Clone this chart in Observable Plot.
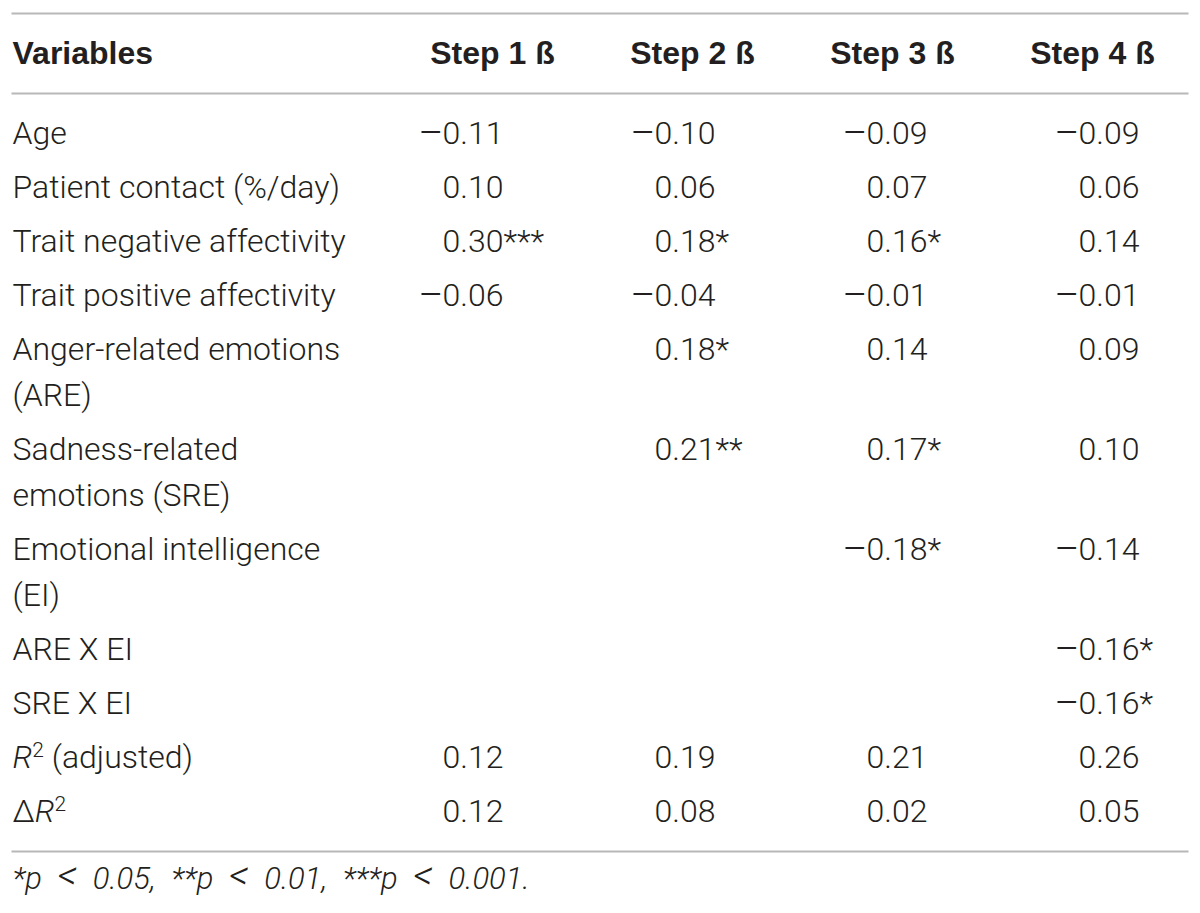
<!DOCTYPE html>
<html>
<head>
<meta charset="utf-8">
<script src="https://cdn.jsdelivr.net/npm/d3@7"></script>
<script src="https://cdn.jsdelivr.net/npm/@observablehq/plot@0.6"></script>
<style>
  html, body { margin: 0; padding: 0; background: #ffffff; }
  #chart svg { display: block; overflow: visible; }
</style>
</head>
<body>
<div id="chart"></div>
<script>
// ---- data ----
const headerLabel = "Variables";
const steps = ["Step 1 ß", "Step 2 ß", "Step 3 ß", "Step 4 ß"];
const variables = [
  "Age",
  "Patient contact (%/day)",
  "Trait negative affectivity",
  "Trait positive affectivity",
  "Anger-related emotions\n(ARE)",
  "Sadness-related\nemotions (SRE)",
  "Emotional intelligence\n(EI)",
  "ARE X EI",
  "SRE X EI",
  "R2 (adjusted)",
  "ΔR2"
];
const step1 = ["–0.11", "0.10", "0.30***", "–0.06", "", "", "", "", "", "0.12", "0.12"];
const step2 = ["–0.10", "0.06", "0.18*", "–0.04", "0.18*", "0.21**", "", "", "", "0.19", "0.08"];
const step3 = ["–0.09", "0.07", "0.16*", "–0.01", "0.14", "0.17*", "–0.18*", "", "", "0.21", "0.02"];
const step4 = ["–0.09", "0.06", "0.14", "–0.01", "0.09", "0.10", "–0.14", "–0.16*", "–0.16*", "0.26", "0.05"];
const footnote = "*p < 0.05, **p < 0.01, ***p < 0.001.";

// ---- style ----
const INK = "#231f20";
const RULE = "#b8b8b8";
const BODY_FONT = "Roboto, 'Liberation Sans', sans-serif";
const HEAD_FONT = "'Liberation Sans', Arial, sans-serif";
const FS = 32;
const INNER = 0.85; // line spacing inside a wrapped row, in row units

// ---- derived tables ----
const rowPos = [];
{
  let p = 0;
  variables.forEach((v, i) => {
    rowPos[i] = p;
    p += 1 + (v.split("\n").length - 1) * INNER;
  });
}
const labelLines = variables.flatMap((v, i) =>
  v.split("\n").map((t, k) => ({text: t, y: rowPos[i] + k * INNER}))
);
const columns = [step1, step2, step3, step4];
const cells = columns.flatMap((col, s) =>
  col.map((v, i) => ({step: steps[s], y: rowPos[i], raw: v}))
     .filter(d => d.raw !== "")
     .map(d => ({...d, neg: d.raw.startsWith("–"), digits: d.raw.replace("–", "")}))
);
const lastRow = rowPos[rowPos.length - 1];

// ---- header ----
const header = Plot.plot({
  width: 1200,
  height: 95,
  marginTop: 13,
  marginBottom: 2,
  marginLeft: 12,
  marginRight: 13,
  x: {type: "point", domain: steps, range: [491, 1093], padding: 0, axis: null},
  marks: [
    Plot.frame({anchor: "top", stroke: RULE, strokeWidth: 2}),
    Plot.frame({anchor: "bottom", stroke: RULE, strokeWidth: 2}),
    Plot.text([headerLabel], {text: d => d, frameAnchor: "left", textAnchor: "start",
      fontSize: FS, fontWeight: "bold", fontFamily: HEAD_FONT, fill: INK}),
    Plot.text(steps, {x: d => d, text: d => d, frameAnchor: "middle", textAnchor: "middle",
      fontSize: FS, fontWeight: "bold", fontFamily: HEAD_FONT, fill: INK})
  ]
});

// ---- body ----
const body = Plot.plot({
  width: 1200,
  height: 818,
  marginTop: 0,
  marginBottom: 62,
  marginLeft: 12,
  marginRight: 13,
  x: {type: "point", domain: steps, range: [441, 1078], padding: 0, axis: null},
  y: {type: "linear", domain: [0, lastRow], range: [38, 716], axis: null},
  marks: [
    Plot.frame({anchor: "bottom", stroke: RULE, strokeWidth: 2}),
    Plot.text(labelLines, {y: "y", text: "text", frameAnchor: "left", textAnchor: "start",
      fontSize: FS, fontWeight: 300, fontFamily: BODY_FONT, fill: INK}),
    Plot.text(cells, {x: "step", y: "y", text: "digits", textAnchor: "start",
      fontSize: FS, fontWeight: 300, fontFamily: BODY_FONT, fill: INK}),
    Plot.text(cells.filter(d => d.neg), {x: "step", y: "y", text: () => "–", textAnchor: "start",
      dx: -24, fontSize: 38, fontWeight: 300, fontFamily: BODY_FONT, fill: INK}),
    Plot.text([footnote], {text: d => d, frameAnchor: "bottom-left", textAnchor: "start",
      lineAnchor: "middle", dy: 28, fontSize: 31, fontWeight: 300, fontStyle: "italic",
      fontFamily: BODY_FONT, fill: INK})
  ]
});

// rich text for R² rows (italic R, superscript 2)
const NS = "http://www.w3.org/2000/svg";
function ts(txt, attrs) {
  const t = document.createElementNS(NS, "tspan");
  for (const k in attrs) t.setAttribute(k, attrs[k]);
  t.textContent = txt;
  return t;
}
let footEl = null;
d3.select(body).selectAll("text").each(function() {
  const s = this.textContent;
  if (s === "R2 (adjusted)" || s === "ΔR2") {
    this.textContent = "";
    if (s === "ΔR2") this.appendChild(ts("Δ", {}));
    this.appendChild(ts("R", {"font-style": "italic"}));
    this.appendChild(ts("2", {"font-size": 21, "dy": -11}));
    if (s === "R2 (adjusted)") this.appendChild(ts(" (adjusted)", {"dy": 11}));
  } else if (s === footnote) {
    footEl = this;
    const parts = s.split("<");
    this.textContent = "";
    parts.forEach((p, i) => {
      this.appendChild(ts(p, {}));
      if (i < parts.length - 1) this.appendChild(ts("<", {"font-size": 40}));
    });
  }
});

const root = document.getElementById("chart");
root.appendChild(header);
root.appendChild(body);

// widen the word gaps of the footnote to the reference's line length
if (footEl) {
  footEl.setAttribute("xml:space", "preserve");
  footEl.style.whiteSpace = "pre";
  const natural = footEl.getComputedTextLength();
  const spaces = (footnote.match(/ /g) || []).length;
  const target = 548;
  if (natural < target) footEl.setAttribute("word-spacing", Math.min(8, (target - natural) / spaces).toFixed(2));
}
</script>
</body>
</html>
